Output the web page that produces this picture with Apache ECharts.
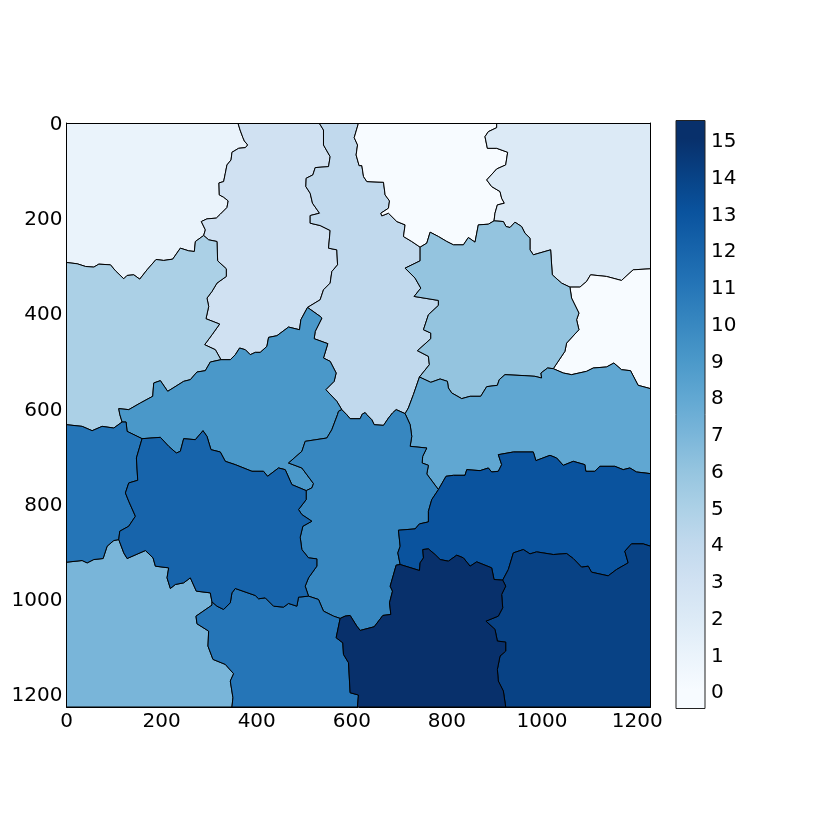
<!DOCTYPE html>
<html>
<head>
<meta charset="utf-8">
<style>
  html, body { margin: 0; padding: 0; background: #fff; }
  #main { width: 830px; height: 830px; }
</style>
<script src="https://cdn.jsdelivr.net/npm/echarts@6/dist/echarts.min.js"></script>
</head>
<body>
<div id="main"></div>
<script>
// image size of the label map
const imageSize = 1228;
const xTickStep = 200;
// Blues, one colour per label
const labelColors = ['#f7fbff', '#eaf3fb', '#dceaf6', '#d0e1f2', '#c1d9ed', '#abd0e6', '#94c4df', '#79b5d9',
  '#60a7d2', '#4a98c9', '#3787c0', '#2575b7', '#1764ab', '#0a539e', '#084285', '#08306b'];
const barLabels = ['0', '1', '2', '3', '4', '5', '6', '7', '8', '9', '10', '11', '12', '13', '14', '15'];

// shared borders between the segments, in image coordinates
const ab = [[360.5,0],[365,14.7],[371,30.8],[374,37.8],[381,46.2],[376,51.8],[362,53.2],[348,61.6],[346,77.7],[337.4,88.2],[334,105.7],[330.4,123.2],[320.6,126],[321.3,151.2],[330.4,156],[340,163.8],[337.4,177.8],[323.4,191.8],[315,200],[295.4,201.6],[283.5,207.2],[292,224.7],[288.4,236.6]];
const ag = [[0,293.3],[22.4,296],[40,301.7],[57.4,303],[68,296.8],[92.4,298.2],[103,310.8],[120.4,327.6],[127.4,320.6],[141.4,319.2],[154,328.3],[169.4,308.7],[188.3,287],[204.4,289],[223.3,286.3],[239.4,263.2],[257,268.8],[268.8,270.2],[271,249.2],[288.4,236.6]];
const bg = [[288.4,236.6],[299,245.7],[316.4,249.2],[317.8,289.8],[336,306.6],[336,322.7],[316.4,336.7],[305.9,354.2],[295.4,368.2],[299,385.7],[293.3,411.6],[322,422.8],[306,445.2],[290.5,466.2],[313,476.7],[324.8,497.7]];
const bi = [[324.8,497.7],[344.4,497.7],[355,487.2],[364,473.2],[376,476.7],[386.4,487.2],[397,482.3],[407.4,482.3],[421.4,469.7],[424.9,450.8],[442.4,447.3],[466.9,429.1],[490,434.7],[492.8,413.7],[506.8,387.8]];
const bc = [[531.3,0],[540.4,14.7],[540.4,46.2],[554.4,70.7],[551,91.7],[523,93.8],[518,109.2],[504,116.2],[503.3,133.7],[512.4,147.7],[517.3,168.7],[532,189.7],[512.4,194.6],[512.4,210.7],[533.4,215.6],[554.4,226],[551,263.2],[568.4,266.7],[570,298.2],[558,312.2],[554.4,336.7],[540.4,350.7],[533.4,371.7],[506.8,387.8]];
const cd = [[614,0],[605,30.8],[612,46.2],[609,67.2],[615.3,89.6],[621,89.6],[624.6,112.7],[631.6,123.2],[666.6,124.6],[670,151.2],[679.2,163.8],[677,179.2],[661,189.7],[663,195.3],[677,189.7],[694.6,207.2],[712,214.2],[708.6,238.7],[726,249.2],[743.6,261.1]];
const de = [[904.6,0],[904.6,9.8],[887,18.2],[880,28.7],[885,53.2],[904.6,53.2],[927.7,61.6],[923.5,88.2],[904.6,96.6],[883.6,119.7],[894,133.7],[911.6,144.2],[915,158.2],[920.7,168.7],[906,172.2],[901,189.7],[899,205.8]];
const dh = [[743.6,261.1],[757.6,252.7],[764.6,229.6],[782,238.7],[799.6,249.2],[813.6,256.2],[834.6,256.2],[845,240.8],[859,250.6],[866,214.2],[887,212.8],[899,205.8]];
const eh = [[899,205.8],[918.6,207.2],[924.2,217.7],[932.6,219.8],[943,208.6],[957,217.7],[964,231.7],[974.6,242.2],[974.6,266.7],[981.6,277.2],[1018,266.7],[1021.5,319.2],[1041,336.7],[1058.6,345.1]];
const ef = [[1058.6,345.1],[1079.6,345.1],[1093.6,333.2],[1102,319.2],[1135.6,322.7],[1167,331.1],[1191.6,308.7],[1228,306.6]];
const fh = [[1058.6,345.1],[1062,368.2],[1077.5,399.7],[1072.6,413.7],[1077.5,434.7],[1051.6,462.7],[1048,480.2],[1023.6,516.6]];
const fj = [[1023.6,516.6],[1044.6,525.7],[1062,529.2],[1093.6,522.2],[1107.6,515.2],[1135.6,513],[1151,504.7],[1167,518.7],[1186,520.8],[1202,551.6],[1228,558.6]];
const hj = [[1023.6,516.6],[1011.7,515.2],[997.7,525.7],[999,536.2],[985,532.7],[964,531.3],[922,529.2],[910,539.7],[906,551.6],[883.6,554.4],[871,574.7],[848.6,574.7],[831,579.6],[810,567.7],[803,557.2],[801,543.2],[785.6,538.3],[766,545.3],[754,539.7],[742.2,534.1]];
const ch = [[743.6,261.1],[743.6,289.8],[712,305.2],[733,326.2],[745,347.2],[731,364.7],[782,373.1],[782,383.6],[761,403.2],[750.6,434.7],[766,441.7],[766,453.6],[738,478.8],[761,490.7],[763,508.2],[742.2,534.1]];
const cj = [[742.2,534.1],[729.4,571.2],[718.9,599.2],[712,611.1]];
const ci = [[506.8,387.8],[533.4,406.7],[537,410.2],[523,438.2],[520.8,453.6],[549.5,464],[540.4,494.2],[554.4,501.2],[567,525.7],[562.8,543.2],[545.3,560.7],[568.4,585.2],[578.9,602.7]];
const cl = [[578.9,602.7],[589.4,613.4],[596.4,621.8],[617.4,621.8],[622,612],[628,609],[631.6,613.4],[642,623.9],[647,634.4],[666.6,635.8],[677,620.4],[685.5,609.7],[693.2,602.7],[712,611.1]];
const il = [[578.9,602.7],[572,606.2],[569.8,613.4],[557.9,644.9],[547.4,662.4],[501.9,669.4],[494.9,690.4],[466.9,714.9],[494.9,725.4],[519.4,758.3],[515.9,767.4],[504,773]];
const jl = [[712,611.1],[722.6,634.4],[726,658.9],[722.6,679.9],[757.6,683.4],[749,700.9],[747.8,714.9],[761,719.8],[757.6,738],[782,770.9]];
const jo = [[782,770.9],[798,742.9],[813.6,740.8],[838,740.8],[841.6,728.9],[869.6,731],[887,725.4],[894,733.8],[908,732.4],[915,718.4],[908,697.4],[939.6,691.8],[981.6,691.8],[987,710],[1016.6,698.8],[1030.6,704.4],[1044.6,719.8],[1065.6,711.4],[1090,718.4],[1092,732.4],[1111,732.4],[1121.6,721.9],[1153,721.9],[1170.6,728.9],[1184.6,725.4],[1198.6,733.8],[1228,737.3]];
const lo = [[782,770.9],[768,791.9],[761,816.4],[761,838.8],[742.2,843],[733,853.5],[698,856.3],[701.6,889.9],[696.7,903.9],[701.6,928.4]];
const lq = [[701.6,928.4],[693.2,929.8],[680.6,974],[685.5,984.4],[679.2,1008.9],[682,1033.4],[665.2,1035.5],[647,1059.3],[617.6,1067],[610.4,1057.9],[596.4,1035.5],[585.9,1036.9],[575.4,1041.8]];
const nl = [[504,773],[504,791.9],[487.9,812.9],[494.9,823.4],[515.9,837.4],[497,847.9],[491.4,871],[494.9,897],[508.9,914.4],[526.4,916.5],[526.4,931.9],[508.9,956.4],[501.9,973.9],[508.9,994.9]];
const ml = [[508.9,994.9],[529.9,1001.9],[540.4,1026.4],[561.4,1036.9],[575.4,1041.8]];
const mq = [[575.4,1041.8],[567,1082.4],[581,1093],[582.4,1117.4],[593,1134.9],[596.4,1198],[613.9,1202.8],[611.8,1228]];
const mn = [[508.9,994.9],[487.9,997],[484.4,1016],[466.9,1010.3],[456.4,1018],[435.4,1016],[417.9,998.4],[404,1000.5],[396.9,993.5],[354.9,978.8],[347.9,988],[344.4,1008.9],[330.4,1022.9],[316.4,1016],[305.9,1006.8]];
const mk = [[305.9,1006.8],[305.9,1013.8],[272.3,1037],[274.4,1053],[298.9,1068.4],[297.5,1099.9],[308,1127.9],[333.9,1138.4],[351.4,1158],[344.4,1173.4],[350,1208.4],[347.9,1228]];
const kn = [[305.9,1006.8],[302.4,988],[273,984.4],[260.4,956.4],[246.4,966.9],[228.9,970.4],[218.4,978.8],[211.4,956.4],[214.9,935.4],[186.9,931.9],[182,914.4],[165.9,899],[127.4,915.8],[120.4,903.9],[109.9,875.9]];
const km = [[109.9,875.9],[99.4,878],[85.4,889.9],[77,915.8],[57.4,917.9],[43.4,925],[32.9,920],[0,923.5]];
const nm = [[109.9,875.9],[112,858.4],[130.9,847.9],[144.9,826.9],[130.9,795.4],[123.9,777.9],[130.9,756.9],[149.8,751.3],[147,704.4],[158.9,663.8]];
const gi = [[324.8,497.7],[302.4,502.6],[291.9,520.8],[274.4,523.6],[260.4,539.7],[246.4,543.2],[221.9,558.6],[212.8,564.2],[197.4,541.8],[183.4,546.7],[181.3,574.7],[155.4,588.7],[130.9,602.7],[109.9,600.6],[112,612.5],[116.9,628.8]];
const im = [[116.9,628.8],[125.3,628.8],[127.4,648.4],[158.9,663.8]];
const gm = [[116.9,628.8],[99.4,641.4],[74.9,637.9],[53.9,647],[32.9,637.9],[0,634.4]];
const inb = [[158.9,663.8],[197.4,661],[214.9,679.9],[231,693.9],[239.4,690.4],[246.4,663.8],[270.9,665.9],[287,647],[295.4,658.9],[303.8,686.9],[323.4,691.8],[333.9,711.4],[354.9,718.4],[389.9,732.4],[414.4,732.4],[422.8,742.9],[445.9,725.4],[459.9,728.9],[473.9,760.4],[504,773]];
const oq = [[701.6,928.4],[742.2,941],[743.6,924.9],[750.6,914.4],[749.2,896.9],[761,895.5],[775,907.4],[785.6,917.9],[803,921.4],[820.6,908.8],[834.6,914.4],[848.6,931.9],[862.6,922.8],[894,935.4],[899,959.9],[917.2,961.3]];
const op = [[917.2,961.3],[929,939],[939.6,903.9],[960.6,896.9],[974.6,906],[988.6,901.8],[1023.6,907.4],[1051.6,905.3],[1065.6,915.8],[1083,934],[1097,931.9],[1104,944.5],[1139,952.2],[1156.6,938.9],[1181,924.9],[1174,900.4],[1188,885],[1212.6,885],[1228,889.9]];
const pq = [[917.2,961.3],[923.5,973.9],[915,991.4],[917.2,1019.4],[908,1036.9],[882,1047.4],[901,1064.9],[906,1089.4],[923.5,1091.5],[923.5,1110.4],[911.6,1120.9],[906,1148.9],[908,1173.4],[918.6,1194.4],[923.5,1228]];

function rev(edge) {
  return edge.slice().reverse();
}

// label of every segment and the borders that close it
const segmentLabels = [1, 3, 4, 0, 2, 0, 5, 6, 9, 8, 7, 10, 11, 11, 12, 13, 14, 15];
const segmentBorders = [
  [[[0, 0]], ab, rev(ag)],
  [ab, bg, bi, rev(bc)],
  [bc, ci, cl, rev(cj), rev(ch), rev(cd)],
  [cd, dh, rev(de)],
  [de, eh, ef, [[imageSize, 0]]],
  [ef, rev(fj), rev(fh)],
  [ag, bg, gi, gm],
  [dh, eh, fh, hj, rev(ch)],
  [rev(bi), gi, im, inb, rev(il), rev(ci)],
  [hj, cj, jl, jo, rev(fj)],
  [km, [[0, imageSize]], rev(mk), kn],
  [cl, jl, lo, lq, rev(ml), rev(nl), rev(il)],
  [gm, rev(km), nm, rev(im)],
  [mn, mk, rev(mq), rev(ml)],
  [inb, nl, mn, kn, nm],
  [jo, rev(op), rev(oq), rev(lo)],
  [op, [[imageSize, imageSize]], rev(pq)],
  [oq, pq, rev(mq), rev(lq)]
];

const chart = echarts.init(document.getElementById('main'), null, { renderer: 'canvas' });
const fontFamily = 'DejaVu Sans';

function renderSegment(params, api) {
  const label = api.value(0);
  const borders = segmentBorders[api.value(1)];
  const points = [];
  borders.forEach(function (edge) {
    edge.forEach(function (p) {
      points.push(api.coord(p));
    });
  });
  return {
    type: 'polygon',
    shape: { points: points },
    style: { fill: labelColors[label], stroke: '#000', lineWidth: 1 }
  };
}

function renderColorbar(params, api) {
  const box = params.coordSys;
  const stops = labelColors.map(function (c, i) {
    return { offset: 1 - (i + 0.5) / labelColors.length, color: c };
  }).reverse();
  return {
    type: 'rect',
    shape: { x: box.x, y: box.y, width: box.width, height: box.height },
    style: {
      fill: new echarts.graphic.LinearGradient(0, 0, 0, 1, stops),
      stroke: '#222',
      lineWidth: 1
    }
  };
}

const mapAxisLine = { show: true, onZero: false, lineStyle: { color: '#000', width: 1 } };
const mapAxisLabel = {
  show: true,
  color: '#000',
  fontFamily: fontFamily,
  fontSize: 20,
  showMaxLabel: false,
  hideOverlap: false,
  formatter: function (v) { return String(v); }
};
// rich style only to push the vertical axis labels down a little
const shiftedRich = {
  map: { color: '#000', fontFamily: fontFamily, fontSize: 20, padding: [4, 0, 0, 0] },
  bar: { color: '#000', fontFamily: fontFamily, fontSize: 20, padding: [6, 0, 0, 0] }
};

const option = {
  animation: false,
  backgroundColor: '#fff',
  grid: [
    { left: 66.5, top: 123, width: 584, height: 584 },
    { left: 676, top: 120.5, width: 29, height: 588 }
  ],
  xAxis: [
    {
      type: 'value', gridIndex: 0, min: 0, max: imageSize, interval: xTickStep, position: 'bottom', z: 5,
      axisLine: mapAxisLine, axisTick: { show: false }, splitLine: { show: false },
      axisLabel: Object.assign({}, mapAxisLabel, { margin: 5 })
    },
    {
      type: 'value', gridIndex: 0, min: 0, max: imageSize, position: 'top', z: 5,
      axisLine: mapAxisLine, axisTick: { show: false }, splitLine: { show: false }, axisLabel: { show: false }
    },
    { type: 'value', gridIndex: 1, min: 0, max: 1, show: false }
  ],
  yAxis: [
    {
      type: 'value', gridIndex: 0, min: 0, max: imageSize, interval: xTickStep, inverse: true, position: 'left', z: 5,
      axisLine: mapAxisLine, axisTick: { show: false }, splitLine: { show: false },
      axisLabel: Object.assign({}, mapAxisLabel, {
        margin: 4,
        rich: shiftedRich,
        formatter: function (v) { return '{map|' + v + '}'; }
      })
    },
    {
      type: 'value', gridIndex: 0, min: 0, max: imageSize, inverse: true, position: 'right', z: 5,
      axisLine: mapAxisLine, axisTick: { show: false }, splitLine: { show: false }, axisLabel: { show: false }
    },
    {
      type: 'category', gridIndex: 1, data: barLabels, position: 'right',
      axisLine: { show: false }, axisTick: { show: false }, splitLine: { show: false },
      axisLabel: {
        color: '#000', fontFamily: fontFamily, fontSize: 20, margin: 6, interval: 0,
        rich: shiftedRich,
        formatter: function (v) { return '{bar|' + v + '}'; }
      }
    }
  ],
  series: [
    {
      type: 'custom',
      xAxisIndex: 0,
      yAxisIndex: 0,
      silent: true,
      clip: true,
      renderItem: renderSegment,
      encode: { x: 0, y: 1 },
      data: segmentLabels.map(function (label, i) { return [label, i]; })
    },
    {
      type: 'custom',
      xAxisIndex: 2,
      yAxisIndex: 2,
      silent: true,
      renderItem: renderColorbar,
      encode: { x: 0, y: 1 },
      data: [[0, 0]]
    }
  ]
};
chart.setOption(option);
</script>
</body>
</html>
